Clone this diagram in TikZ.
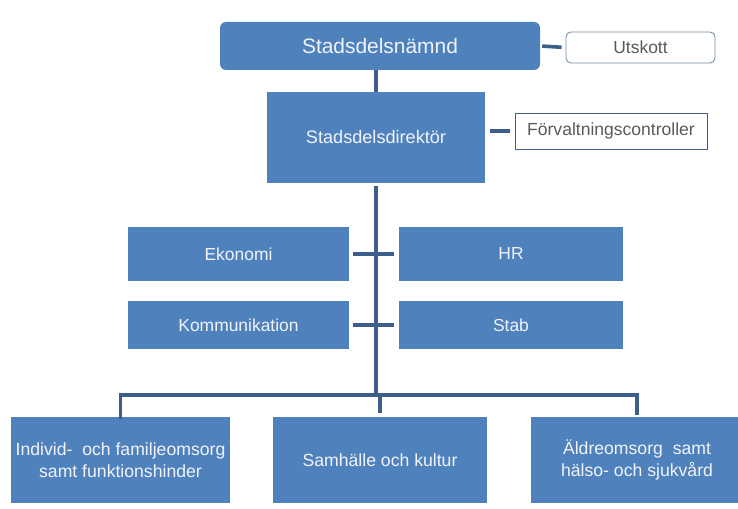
\documentclass[tikz,border=0pt]{standalone}
\usepackage{fontspec}
\setmainfont{Liberation Sans}
\definecolor{boxblue}{RGB}{79,129,189}
\definecolor{linkblue}{RGB}{60,94,138}
\definecolor{boxtext}{RGB}{240,244,250}
\definecolor{graytext}{RGB}{90,90,90}
\definecolor{rimgray}{RGB}{120,138,165}
\tikzset{
  bluebox/.style={draw=none, fill=boxblue, text=boxtext, inner sep=0pt, align=center},
  sidebox/.style={draw=rimgray, line width=0.9bp, fill=white, text=graytext, inner sep=0pt, align=center},
  link/.style={draw=linkblue, line width=3.6bp}
}
\begin{document}
\begin{tikzpicture}[x=1bp, y=-1bp]
\useasboundingbox (0,0) rectangle (738,509);
% top level
\node[bluebox, rounded corners=6bp, minimum width=320bp, minimum height=48bp, font=\fontsize{21}{24}\selectfont] (sn) at (380,46) {Stadsdelsnämnd};
\node[sidebox, rounded corners=5bp, minimum width=149bp, minimum height=31bp, font=\fontsize{17.5}{20}\selectfont] (ut) at (640.5,47.5) {Utskott};
\node[bluebox, minimum width=218bp, minimum height=91bp, font=\fontsize{18.2}{20}\selectfont] (sd) at (376,137.5) {Stadsdelsdirektör};
\node[sidebox, draw=linkblue, minimum width=192bp, minimum height=36bp, font=\fontsize{17.6}{20}\selectfont] (fc) at (611,131) {Förvaltningscontroller};
% staff
\node[bluebox, minimum width=221bp, minimum height=54bp, font=\fontsize{17.5}{20}\selectfont] (ek) at (238.5,254) {Ekonomi};
\node[bluebox, minimum width=224bp, minimum height=54bp, font=\fontsize{17.5}{20}\selectfont] (hr) at (511,254) {HR};
\node[bluebox, minimum width=221bp, minimum height=48bp, font=\fontsize{17.5}{20}\selectfont] (ko) at (238.5,325) {Kommunikation};
\node[bluebox, minimum width=224bp, minimum height=48bp, font=\fontsize{17.5}{20}\selectfont] (st) at (511,325) {Stab};
% departments
\node[bluebox, minimum width=219bp, minimum height=86bp, font=\fontsize{17.7}{21.5}\selectfont] (ifo) at (120.5,460) {Individ-~ och familjeomsorg\\samt funktionshinder};
\node[bluebox, minimum width=214bp, minimum height=86bp, font=\fontsize{17.7}{21.5}\selectfont] (shk) at (380,460) {Samhälle och kultur};
\node[bluebox, minimum width=212bp, minimum height=86bp, font=\fontsize{17.7}{21.5}\selectfont] (aos) at (637,460) {Äldreomsorg~ samt\\hälso- och sjukvård};
% connectors
\coordinate (bus) at (376,395);
\draw[link] (sn.south -| sd.north) -- (sd.north);
\draw[link, shorten <=3bp] (sd.south) -- (bus);
\draw[link, shorten <=2bp, shorten >=4bp] (sn.east) -- (ut.west);
\draw[link, shorten <=5bp, shorten >=5bp] (sd.east |- fc.west) -- (fc.west);
\draw[link, shorten <=4bp, shorten >=5bp] (ek.east) -- (hr.west);
\draw[link, shorten <=4bp, shorten >=5bp] (ko.east) -- (st.west);
\draw[link, shorten >=4bp, line cap=rect] (ifo.north) -- (ifo.north |- bus) -- (aos.north |- bus) -- (aos.north);
\draw[link, shorten >=4bp] (shk.north |- bus) -- (shk.north);
\end{tikzpicture}
\end{document}
